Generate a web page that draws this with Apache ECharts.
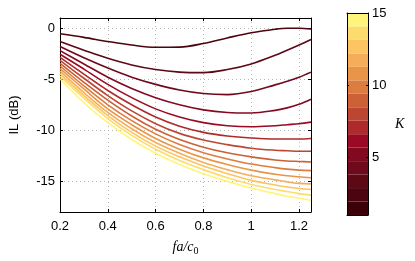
<!DOCTYPE html>
<html><head><meta charset="utf-8">
<script src="https://cdn.jsdelivr.net/npm/echarts@6/dist/echarts.min.js"></script>
<style>html,body{margin:0;padding:0;background:#fff}#c{width:415px;height:261px}</style>
</head><body><div id="c"></div>
<script>
// ---- data ----
const xValues = [0.2, 0.3, 0.4, 0.5, 0.6, 0.7, 0.8, 0.9, 1.0, 1.1, 1.15, 1.2, 1.25];
const kValues = [2, 3, 4, 5, 6, 7, 8, 9, 10, 11, 12, 13, 14, 15];
const ilK2  = [-0.55, -0.9, -1.3, -1.65, -1.87, -1.85, -1.5, -0.95, -0.45, -0.1, 0.0, 0.0, -0.08];
const ilK3  = [-1.3, -2.15, -2.95, -3.6, -4.05, -4.3, -4.35, -4.05, -3.5, -2.65, -2.15, -1.65, -1.1];
const ilK4  = [-1.8, -2.9, -3.9, -4.8, -5.5, -6.05, -6.4, -6.5, -6.2, -5.55, -5.2, -4.8, -4.3];
const ilK5  = [-2.2, -3.5, -4.8, -5.9, -6.8, -7.5, -8.0, -8.25, -8.3, -8.05, -7.8, -7.45, -6.95];
const ilK6  = [-2.55, -4.0, -5.5, -6.8, -7.9, -8.7, -9.25, -9.55, -9.65, -9.55, -9.45, -9.35, -9.2];
const ilK7  = [-2.85, -4.5, -6.1, -7.5, -8.7, -9.6, -10.2, -10.55, -10.75, -10.85, -10.85, -10.85, -10.8];
const ilK8  = [-3.15, -4.9, -6.6, -8.1, -9.35, -10.3, -10.95, -11.4, -11.75, -11.95, -12.0, -12.05, -12.05];
const ilK9  = [-3.45, -5.3, -7.05, -8.6, -9.9, -10.9, -11.65, -12.2, -12.6, -12.9, -13.0, -13.05, -13.1];
const ilK10 = [-3.7, -5.65, -7.5, -9.05, -10.35, -11.4, -12.2, -12.8, -13.3, -13.65, -13.8, -13.9, -13.95];
const ilK11 = [-3.95, -5.95, -7.9, -9.45, -10.8, -11.85, -12.7, -13.35, -13.9, -14.3, -14.45, -14.55, -14.65];
const ilK12 = [-4.2, -6.3, -8.25, -9.85, -11.2, -12.25, -13.15, -13.85, -14.45, -14.85, -15.05, -15.2, -15.25];
const ilK13 = [-4.45, -6.6, -8.55, -10.2, -11.55, -12.6, -13.5, -14.25, -14.9, -15.35, -15.55, -15.7, -15.8];
const ilK14 = [-4.7, -6.85, -8.85, -10.5, -11.85, -12.95, -13.85, -14.65, -15.3, -15.8, -16.0, -16.2, -16.35];
const ilK15 = [-4.95, -7.3, -9.25, -10.9, -12.25, -13.35, -14.25, -15.0, -15.65, -16.2, -16.45, -16.65, -16.85];
const ilSeries = [ilK2, ilK3, ilK4, ilK5, ilK6, ilK7, ilK8, ilK9, ilK10, ilK11, ilK12, ilK13, ilK14, ilK15];
const yTicks = [-15, -10, -5, 0];
const cbTicks = [5, 10, 15];
const cbMin = 1, cbMax = 15;
// colormap, K = 1 .. 15
const bandColors = ['#3b0008', '#4c0510', '#5c0815', '#6e0a1c', '#820a20', '#9a0a24', '#ae2a2b',
  '#bc4632', '#cc6036', '#dc7c3e', '#e8954a', '#f5ad59', '#fcc463', '#fddc6e', '#fff57a'];

// ---- chart ----
const FONT = 'Liberation Sans';
const nBands = bandColors.length;
const bandData = bandColors.map((c, i) => [cbMin + i * (cbMax - cbMin) / nBands, cbMin + (i + 1) * (cbMax - cbMin) / nBands]);

const frameLine = { show: true, onZero: false, lineStyle: { color: '#000', width: 1 } };
const grid0 = { left: 53, top: 18, width: 258, height: 201 };
const grid1 = { left: 347, top: 13, width: 21, height: 202 };

const fmtX = v => (Math.abs(v * 5 - Math.round(v * 5)) < 1e-6 ? String(+v.toFixed(1)) : '');

const option = {
  animation: false,
  backgroundColor: '#fff',
  grid: [grid0, grid1],
  xAxis: [
    { gridIndex: 0, type: 'value', min: 0.2, max: 1.25, interval: 0.2, position: 'bottom',
      axisLine: frameLine, axisTick: { inside: true, length: 3, lineStyle: { color: '#000' } },
      axisLabel: { fontFamily: FONT, fontSize: 13, color: '#000', margin: 8, formatter: fmtX },
      splitLine: { show: true, lineStyle: { color: '#b5b5b5', type: [1, 3], width: 1 } },
      name: '{i|fa/c}{s|0}', nameLocation: 'middle', nameGap: 27,
      nameTextStyle: { rich: {
        i: { fontFamily: 'Liberation Serif', fontStyle: 'italic', fontSize: 14, color: '#000' },
        s: { fontFamily: 'Liberation Serif', fontSize: 10, color: '#000', padding: [7, 0, 0, 0] } } } },
    { gridIndex: 0, type: 'value', min: 0.2, max: 1.25, interval: 0.2, position: 'top',
      axisLine: frameLine, axisTick: { inside: true, length: 3, lineStyle: { color: '#000' } },
      axisLabel: { show: false }, splitLine: { show: false } },
    { gridIndex: 1, type: 'value', min: 0, max: 1, position: 'bottom', z: 10,
      axisLine: frameLine, axisTick: { show: false }, axisLabel: { show: false }, splitLine: { show: false } },
    { gridIndex: 1, type: 'value', min: 0, max: 1, position: 'top', z: 10,
      axisLine: frameLine, axisTick: { show: false }, axisLabel: { show: false }, splitLine: { show: false } }
  ],
  yAxis: [
    { gridIndex: 0, type: 'value', min: -18, max: 1, position: 'left',
      axisLine: frameLine,
      axisTick: { inside: true, length: 3, lineStyle: { color: '#000' }, customValues: yTicks },
      axisLabel: { fontFamily: FONT, fontSize: 13, color: '#000', margin: 5, customValues: yTicks },
      splitLine: { show: true, lineStyle: { color: '#b5b5b5', type: [1, 3], width: 1 } },
      name: 'IL (dB)', nameLocation: 'middle', nameGap: 39,
      nameTextStyle: { fontFamily: FONT, fontSize: 13, color: '#000' } },
    { gridIndex: 0, type: 'value', min: -18, max: 1, position: 'right',
      axisLine: frameLine,
      axisTick: { inside: true, length: 3, lineStyle: { color: '#000' }, customValues: yTicks },
      axisLabel: { show: false }, splitLine: { show: false } },
    { gridIndex: 1, type: 'value', min: cbMin, max: cbMax, position: 'right', z: 10,
      axisLine: frameLine,
      axisTick: { inside: true, length: 2, lineStyle: { color: '#000' }, customValues: cbTicks },
      axisLabel: { fontFamily: FONT, fontSize: 13, color: '#000', margin: 4, customValues: cbTicks },
      splitLine: { show: false } },
    { gridIndex: 1, type: 'value', min: cbMin, max: cbMax, position: 'left', z: 10,
      axisLine: frameLine,
      axisTick: { inside: true, length: 2, lineStyle: { color: '#000' }, customValues: cbTicks },
      axisLabel: { show: false }, splitLine: { show: false } }
  ],
  graphic: [
    { type: 'text', left: 395, top: 117, style: { text: 'K', font: 'italic 14px "Liberation Serif"', fill: '#000' } }
  ],
  series: [
    ...ilSeries.map((arr, s) => ({
      type: 'line', xAxisIndex: 0, yAxisIndex: 0, smooth: 0.35, showSymbol: false, silent: true,
      data: xValues.map((x, i) => [x, arr[i]]),
      lineStyle: { width: 1.6, color: bandColors[kValues[s] - 1] }, clip: true
    })),
    { type: 'custom', xAxisIndex: 2, yAxisIndex: 2, silent: true, z: 1,
      data: bandData,
      renderItem: (params, api) => {
        const lo = api.value(0), hi = api.value(1);
        const p0 = api.coord([0, hi]);
        const p1 = api.coord([1, lo]);
        return { type: 'rect', shape: { x: p0[0], y: p0[1], width: p1[0] - p0[0], height: p1[1] - p0[1] },
                 style: { fill: bandColors[params.dataIndex] } };
      } }
  ]
};
const chart = echarts.init(document.getElementById('c'), null, { renderer: 'canvas' });
chart.setOption(option);
</script>
</body></html>
